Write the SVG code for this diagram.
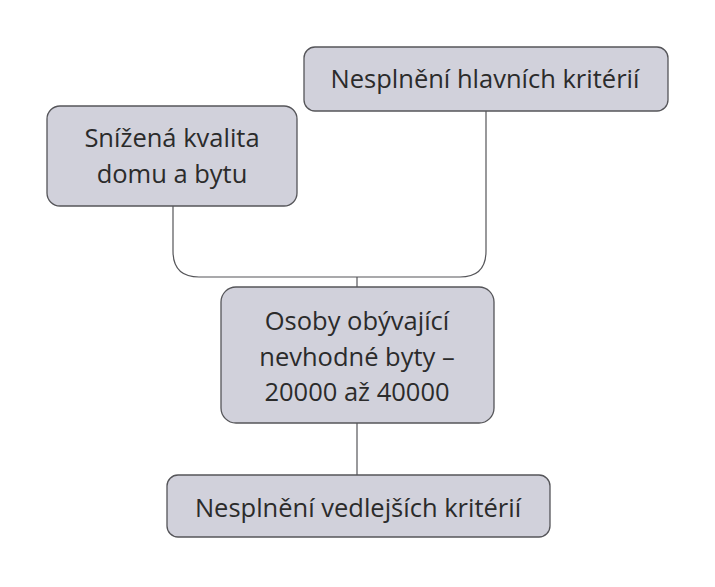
<svg xmlns="http://www.w3.org/2000/svg" width="715" height="587" viewBox="0 0 715 587">
<style>
.box{fill:#d1d1db;stroke:#555559;stroke-width:1.3}
.t{font-family:"Open Sans","Noto Sans","Liberation Sans",sans-serif;font-size:25.5px;fill:#2b2b2b;text-anchor:middle}
.c{fill:none;stroke:#555559;stroke-width:1.2}
</style>
<rect width="715" height="587" fill="#ffffff"/>
<g id="connectors">
<path class="c" d="M173,206 V251 Q173,277 199,277 H460 Q486,277 486,251 V111"/>
<path class="c" d="M357,277 V287"/>
<path class="c" d="M357,423 V475"/>
</g>
<g id="n-hlavni">
<rect class="box" x="304" y="47" width="364" height="64" rx="11"/>
<text class="t" x="485" y="88">Nesplnění hlavních kritérií</text>
</g>
<g id="n-snizena">
<rect class="box" x="47" y="106" width="250" height="100" rx="13"/>
<text class="t" x="172" y="147">Snížená kvalita</text>
<text class="t" x="172" y="183">domu a bytu</text>
</g>
<g id="n-osoby">
<rect class="box" x="221" y="287" width="273" height="136" rx="15"/>
<text class="t" x="357" y="330">Osoby obývající</text>
<text class="t" x="357" y="366">nevhodné byty –</text>
<text class="t" x="357" y="401">20000 až 40000</text>
</g>
<g id="n-vedlejsi">
<rect class="box" x="167" y="475" width="383" height="62" rx="11"/>
<text class="t" x="358" y="517">Nesplnění vedlejších kritérií</text>
</g>
</svg>
